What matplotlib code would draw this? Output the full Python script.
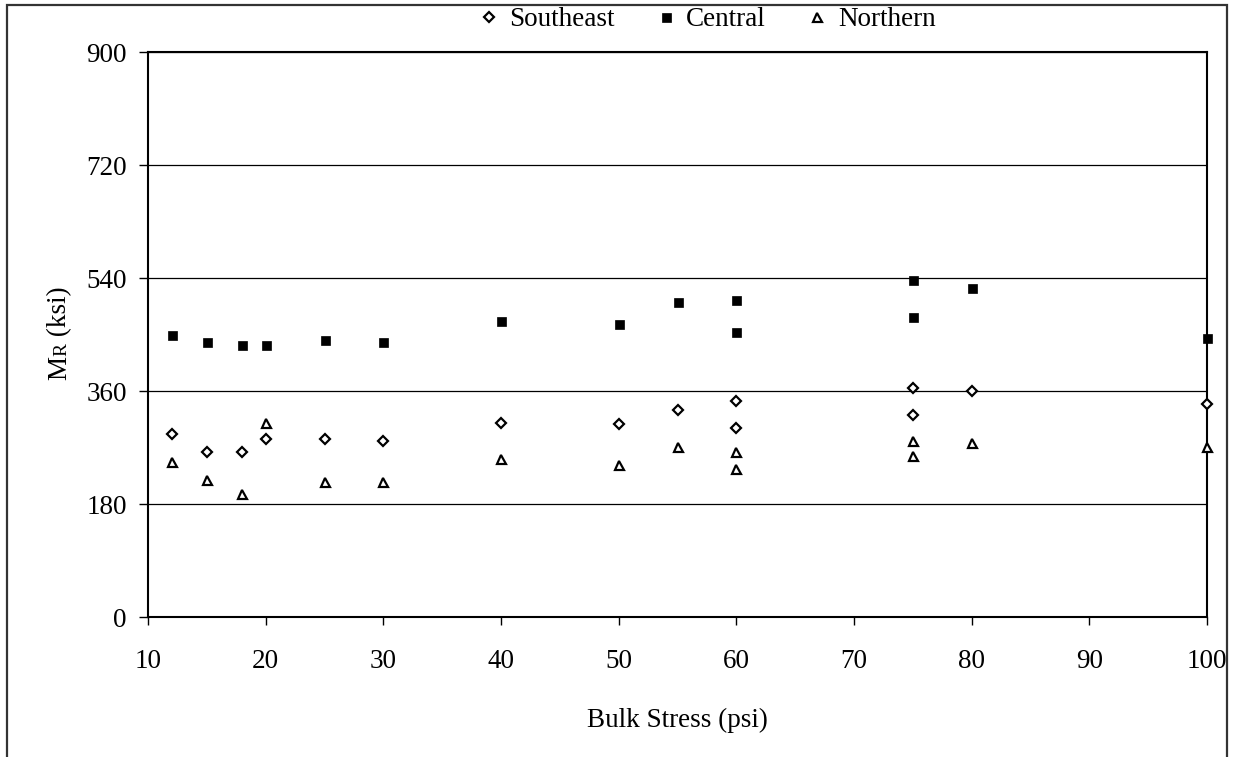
import matplotlib
matplotlib.use("Agg")
import matplotlib.pyplot as plt
from matplotlib.patches import Rectangle

# ---------------- data ----------------
southeast_x = [12, 15, 18, 20, 25, 30, 40, 50, 55, 60, 60, 75, 75, 80, 100]
southeast_y = [292, 263, 263, 284, 284, 281, 310, 308, 331, 345, 301, 365, 323, 360, 340]

central_x = [12, 15, 18, 20, 25, 30, 40, 50, 55, 60, 60, 75, 75, 80, 100]
central_y = [449, 438, 434, 434, 441, 438, 472, 468, 502, 505, 454, 538, 479, 524, 445]

northern_x = [12, 15, 18, 20, 25, 30, 40, 50, 55, 60, 60, 75, 75, 80, 100]
northern_y = [248, 219, 197, 310, 216, 216, 252, 242, 271, 264, 237, 281, 257, 278, 272]

x_ticks = [10, 20, 30, 40, 50, 60, 70, 80, 90, 100]
y_ticks = [0, 180, 360, 540, 720, 900]
series_names = ["Southeast", "Central", "Northern"]

# ---------------- figure ----------------
W, H = 1233, 757
DPI = 100
plt.rcParams['font.family'] = ['Liberation Serif', 'DejaVu Serif']
fig = plt.figure(figsize=(W / DPI, H / DPI), dpi=DPI)

def px2pt(p):
    return p * 72.0 / DPI

# outer border
fig.patches.append(Rectangle((7 / W, -0.05), (1227 - 7) / W, 1.05 - 5 / H,
                             transform=fig.transFigure, fill=False,
                             edgecolor='#333333', linewidth=1.6, clip_on=False))

left, right = 148 / W, 1207 / W
top, bottom = 1 - 52.3 / H, 1 - 617.3 / H
ax = fig.add_axes([left, bottom, right - left, top - bottom])

ax.set_xlim(10, 100)
ax.set_ylim(0, 900)
ax.set_xticks(x_ticks)
ax.set_yticks(y_ticks)
ax.tick_params(axis='both', labelsize=19.5, colors='black', width=1.0)
ax.tick_params(axis='y', direction='out', length=px2pt(9), pad=px2pt(12))
ax.tick_params(axis='x', direction='out', length=px2pt(8), pad=px2pt(24))
for s in ax.spines.values():
    s.set_linewidth(1.5)
    s.set_color('black')

ax.grid(axis='y', color='black', linewidth=0.9)
ax.set_axisbelow(True)

common = dict(linestyle='none', clip_on=False, zorder=5)
h1, = ax.plot(southeast_x, southeast_y, marker='D', markersize=px2pt(6.8),
              markerfacecolor='white', markeredgecolor='black',
              markeredgewidth=px2pt(2.2), label=series_names[0], **common)
h2, = ax.plot(central_x, central_y, marker='s', markersize=px2pt(9),
              markerfacecolor='black', markeredgecolor='black',
              markeredgewidth=0.5, label=series_names[1], **common)
h3, = ax.plot(northern_x, northern_y, marker='^', markersize=px2pt(9),
              markerfacecolor='white', markeredgecolor='black',
              markeredgewidth=px2pt(2.2), label=series_names[2], **common)

leg = fig.legend(handles=[h1, h2, h3], loc='center', ncol=3,
                 bbox_to_anchor=(708 / W, 1 - 20 / H), frameon=False,
                 fontsize=19.5, handlelength=0.6, handletextpad=0.45,
                 columnspacing=1.6, borderaxespad=0, borderpad=0)

# x label
fig.text(677.5 / W, 1 - 720 / H, "Bulk Stress (psi)", ha='center', va='center',
         fontsize=19.5)

# y label "MR (ksi)" with small-caps R
fig.canvas.draw()
r = fig.canvas.get_renderer()
parts = [("M", 19.5), ("R", 14), (" (ksi)", 19.5)]
widths = []
for txt, fs in parts:
    t = fig.text(0, 0, txt, fontsize=fs)
    bb = t.get_window_extent(renderer=r)
    widths.append(bb.width)
    t.remove()
total = sum(widths)
cy = 333.0
y0 = (H - cy) - total / 2.0
xb = 66.0
for (txt, fs), w in zip(parts, widths):
    fig.text(xb / W, y0 / H, txt, fontsize=fs, rotation=90,
             rotation_mode='anchor', ha='left', va='baseline')
    y0 += w

fig.savefig("out.png", dpi=DPI)
